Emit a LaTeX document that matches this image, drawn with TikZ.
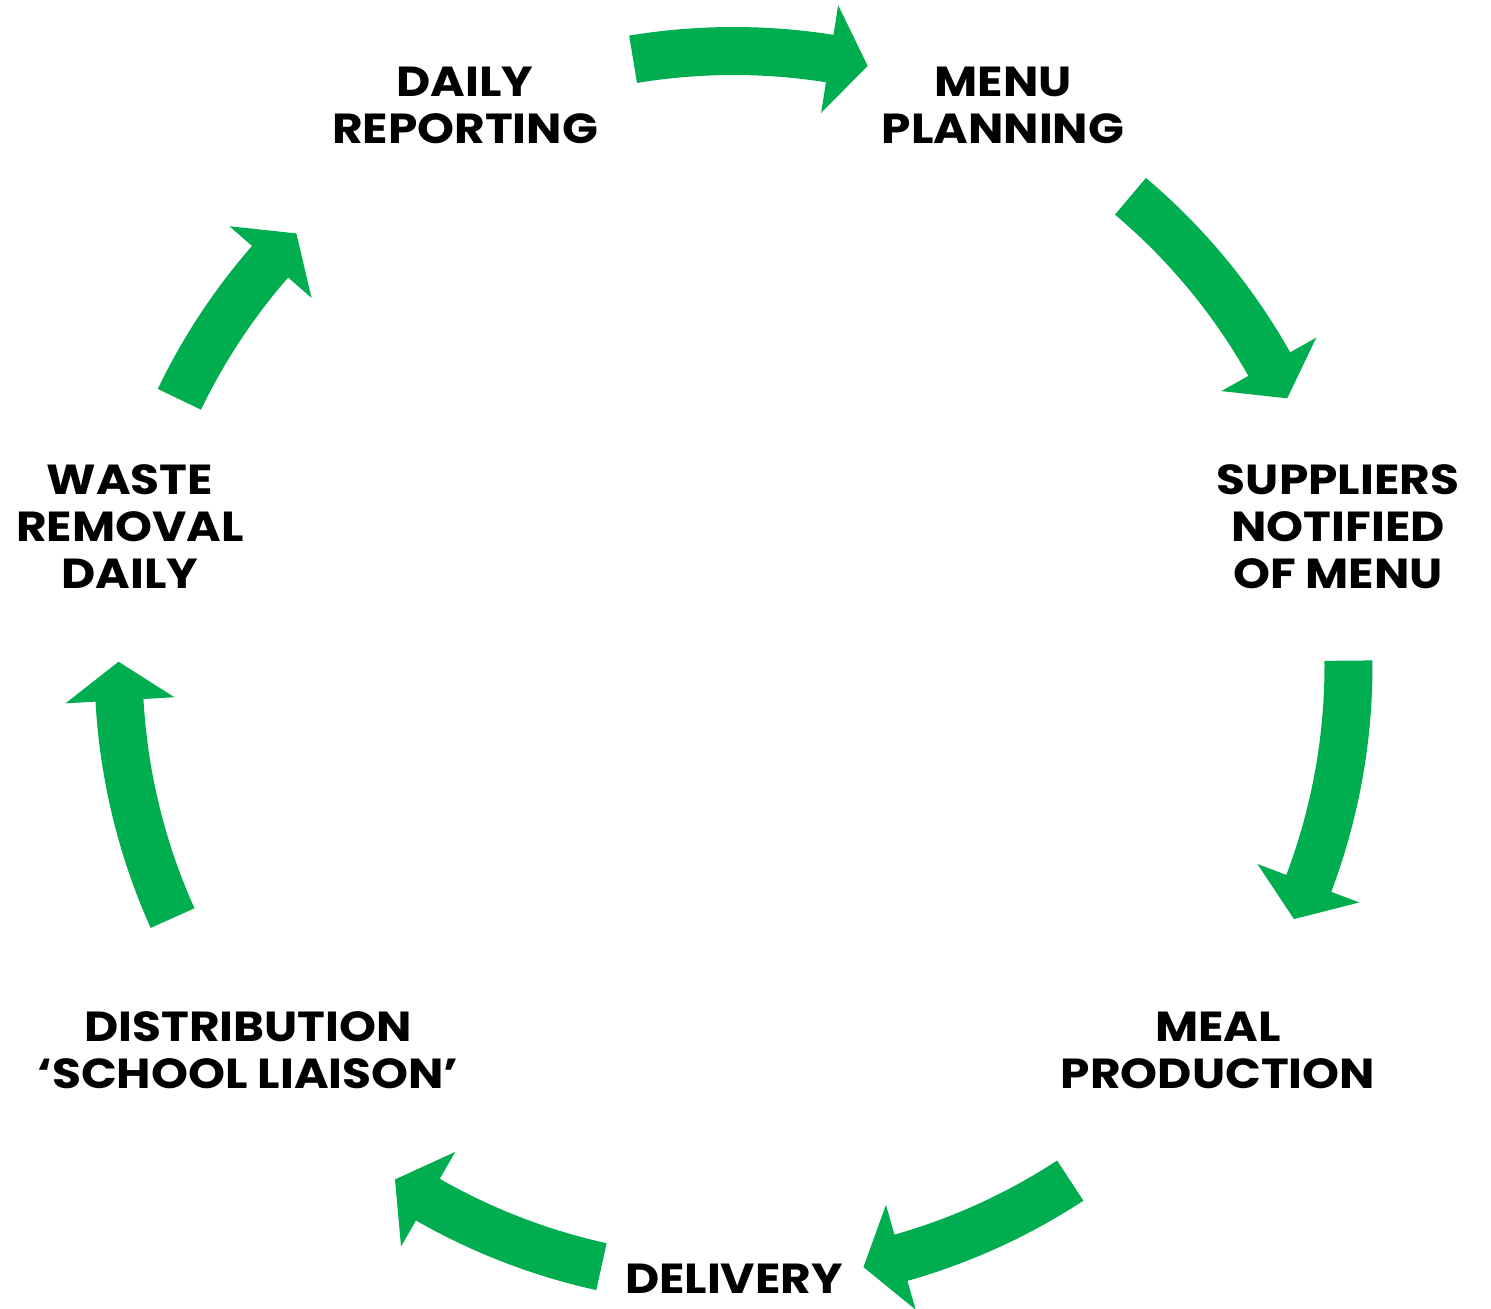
\documentclass[tikz,border=0pt]{standalone}
\usepackage{fontspec}
\setmainfont{Poppins}[FakeStretch=1.12]
\definecolor{cyclegreen}{RGB}{0,174,80}
\tikzset{
  steplabel/.style={font=\fontsize{21}{23.5}\selectfont\bfseries, align=center, text=black, inner sep=0pt},
}
% one curved arrow of the cycle: tail angle, tip angle (clockwise)
\newcommand\cyclearrow[2]{%
  \pgfmathsetmacro\headbase{#2+3.6}%
  \fill[cyclegreen, shift={(C)}]
    (#1:639) arc[start angle=#1, end angle=\headbase, radius=639]
    -- (\headbase:669) -- (#2:615) -- (\headbase:560) -- (\headbase:591)
    arc[start angle=\headbase, end angle=#1, radius=591] -- cycle;%
}
\begin{document}
\begin{tikzpicture}[x=0.5pt, y=0.5pt]
  \useasboundingbox (0,0) rectangle (1491,1308);
  \coordinate (C) at (733.5,642);

  \cyclearrow{99.4}{77.4}
  \cyclearrow{49.8}{25.8}
  \cyclearrow{0.5}{-24.3}
  \cyclearrow{-56.8}{-77.8}
  \cyclearrow{-102.4}{-123.4}
  \cyclearrow{204.2}{179.6}
  \cyclearrow{154.3}{135.3}

  \node[steplabel] (report) at (465,1203) {DAILY\\REPORTING};
  \node[steplabel] (menu)   at (1003,1203) {MENU\\PLANNING};
  \node[steplabel] (supply) at (1338,781) {SUPPLIERS\\NOTIFIED\\OF MENU};
  \node[steplabel] (meal)   at (1218,258) {MEAL\\PRODUCTION};
  \node[steplabel] (deliv)  at (734,29) {DELIVERY};
  \node[steplabel] (distr)  at (248,258) {DISTRIBUTION\\‘SCHOOL LIAISON’};
  \node[steplabel] (waste)  at (130,781) {WASTE\\REMOVAL\\DAILY};
\end{tikzpicture}
\end{document}
